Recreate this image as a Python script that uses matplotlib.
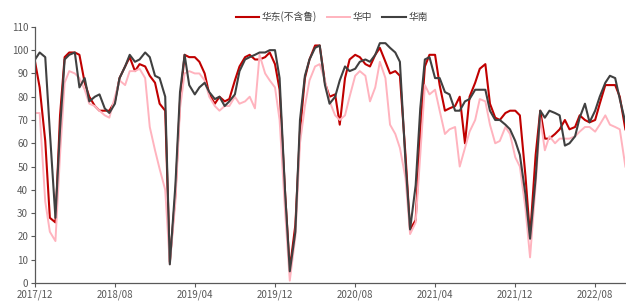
import matplotlib
matplotlib.use("Agg")
import matplotlib.pyplot as plt
import matplotlib.dates as mdates
import pandas as pd

plt.rcParams['font.family'] = ['Noto Sans CJK SC', 'DejaVu Sans']

# semi-monthly readings, 2017/12 .. 2022/11
dates = pd.date_range('2017-12-01', periods=119, freq='SMS')

east = [95, 84, 61, 28, 26, 72, 97, 99, 99, 98, 86, 80, 76, 74, 74,
        74, 78, 88, 93, 97, 91, 94, 93, 89, 86, 77, 74, 9, 38, 78,
        98, 97, 97, 95, 90, 81, 77, 80, 78, 79, 87, 93, 97, 98, 96,
        96, 97, 99, 94, 83, 38, 6, 25, 65, 88, 96, 102, 102, 86, 80,
        81, 68, 88, 96, 98, 97, 94, 93, 98, 101, 95, 90, 91, 89, 55,
        23, 27, 65, 93, 98, 98, 85, 74, 75, 76, 80, 60, 80, 86, 92,
        94, 77, 71, 70, 73, 74, 74, 72, 46, 20, 55, 74, 62, 62, 64,
        66, 70, 66, 67, 72, 70, 69, 70, 77, 85, 85, 85, 80, 66]

central = [73, 73, 35, 22, 18, 55, 86, 91, 90, 88, 83, 77, 76, 74, 72,
           71, 80, 87, 85, 91, 91, 92, 88, 67, 57, 49, 40, 8, 35, 75,
           90, 91, 90, 90, 87, 80, 76, 74, 76, 76, 80, 77, 78, 80, 75,
           98, 90, 87, 84, 70, 30, 1, 20, 60, 76, 87, 93, 94, 87, 78,
           72, 70, 72, 80, 89, 91, 89, 78, 84, 95, 88, 68, 64, 58, 45,
           21, 26, 55, 85, 81, 83, 74, 64, 66, 67, 50, 58, 65, 70, 79,
           78, 68, 60, 61, 67, 64, 54, 50, 32, 11, 42, 71, 57, 63, 60,
           62, 62, 62, 63, 65, 67, 67, 65, 68, 72, 68, 67, 66, 50]

south = [96, 99, 97, 65, 28, 66, 96, 98, 99, 84, 88, 78, 80, 81, 75,
         73, 77, 88, 93, 98, 95, 96, 99, 97, 89, 88, 80, 8, 42, 82,
         98, 85, 81, 84, 86, 82, 79, 80, 76, 78, 81, 91, 96, 97, 98,
         99, 99, 100, 100, 88, 38, 5, 22, 70, 89, 96, 101, 102, 85, 77,
         80, 87, 93, 91, 92, 95, 96, 95, 98, 103, 103, 101, 99, 95, 52,
         23, 42, 75, 96, 97, 88, 88, 82, 81, 74, 74, 78, 79, 83, 83,
         83, 74, 70, 70, 68, 66, 61, 55, 38, 19, 45, 74, 71, 74, 73,
         72, 59, 60, 63, 71, 77, 69, 74, 80, 86, 89, 88, 79, 69]

tick_dates = pd.to_datetime(['2017-12-01', '2018-08-01', '2019-04-01', '2019-12-01',
                             '2020-08-01', '2021-04-01', '2021-12-01', '2022-08-01'])

fig = plt.figure(figsize=(6.26, 3.02), dpi=100)
ax = fig.add_axes([0.056, 0.063, 0.943, 0.848])

ax.plot(dates, east, color='#C00000', lw=1.5, label='华东(不含鲁)')
ax.plot(dates, central, color='#FFB3BE', lw=1.4, label='华中')
ax.plot(dates, south, color='#404040', lw=1.5, label='华南')

ax.set_ylim(0, 110)
ax.set_yticks(range(0, 111, 10))
ax.set_xlim(dates[0], dates[-1])
ax.set_xticks(tick_dates)
ax.xaxis.set_major_formatter(mdates.DateFormatter('%Y/%m'))

for s in ['top', 'right']:
    ax.spines[s].set_visible(False)
for s in ['left', 'bottom']:
    ax.spines[s].set_color('#595959')
    ax.spines[s].set_linewidth(0.9)
ax.tick_params(colors='#595959', labelsize=7, length=3, width=0.8)
ax.tick_params(axis='x', pad=2)
ax.tick_params(axis='y', pad=2)

fig.legend(loc='center', bbox_to_anchor=(0.53, 0.945), ncol=3, frameon=False,
           fontsize=7, handlelength=2.4, columnspacing=1.0, handletextpad=0.3,
           labelcolor='#404040')

fig.savefig('out.png', dpi=100)
